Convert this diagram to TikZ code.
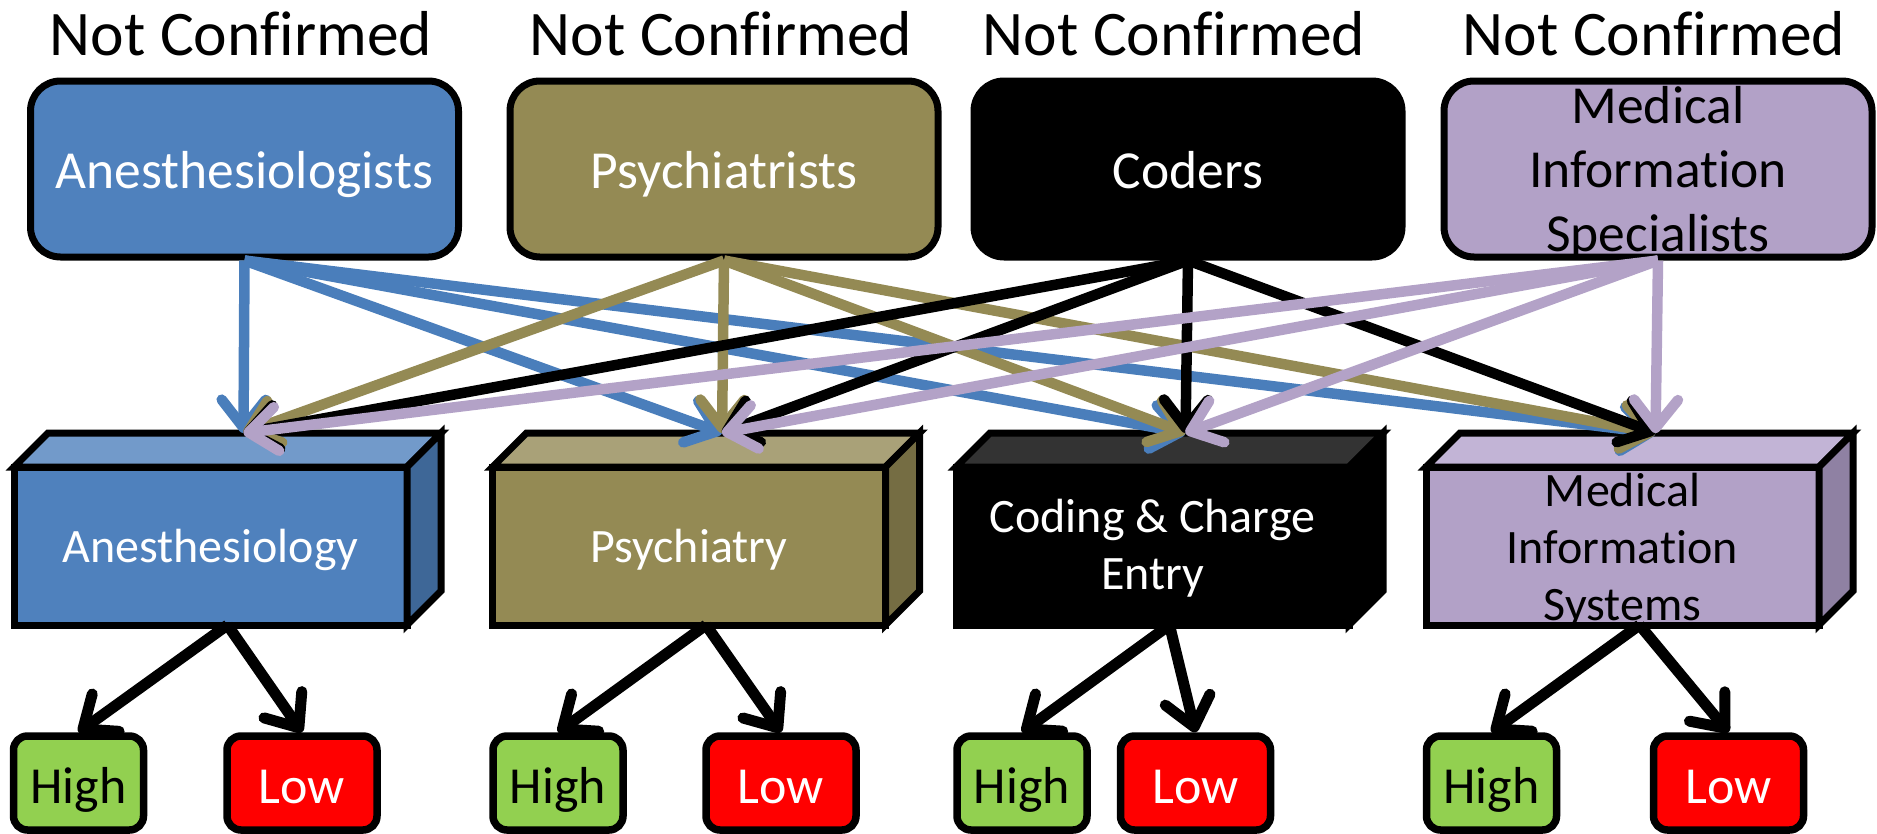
\documentclass[tikz,border=0pt]{standalone}
\usepackage{fontspec}
\setmainfont{Carlito}[Ligatures=NoCommon]
\usetikzlibrary{arrows.meta,calc}
\definecolor{blueF}{HTML}{4F81BD}
\definecolor{blueT}{HTML}{729ACA}
\definecolor{blueS}{HTML}{3E6797}
\definecolor{blueL}{HTML}{4A7EBB}
\definecolor{oliveF}{HTML}{948A54}
\definecolor{oliveT}{HTML}{A9A178}
\definecolor{oliveS}{HTML}{756D43}
\definecolor{purpF}{HTML}{B2A1C7}
\definecolor{purpT}{HTML}{C2B4D6}
\definecolor{purpS}{HTML}{8F81A3}
\definecolor{purpL}{HTML}{B3A2C7}
\definecolor{darkT}{HTML}{333333}
\definecolor{hiG}{HTML}{92D050}
\definecolor{loR}{HTML}{FF0000}
\begin{document}
\begin{tikzpicture}[x=1pt,y=-1pt,
  topbox/.style={draw=black, line width=7pt, rounded corners=30pt, minimum width=428pt, minimum height=176pt, inner sep=0pt, align=center, font=\fontsize{53.5}{64}\selectfont, text height=38pt, text depth=0pt},
  toptext/.style={inner sep=0pt, align=center, font=\fontsize{53.5}{64}\selectfont},
  hdr/.style={anchor=base, inner sep=0pt, font=\fontsize{63.5}{70}\selectfont},
  front/.style={draw=black, line width=7pt, minimum width=393pt, minimum height=158pt, inner sep=0pt, outer sep=0pt, align=center, font=\fontsize{48}{57}\selectfont, text height=32pt, text depth=0pt},
  fronttext/.style={inner sep=0pt, align=center, font=\fontsize{48}{57}\selectfont},
  face/.style={draw=black, line width=7pt, line join=miter},
  rate/.style={draw=black, line width=7.5pt, rounded corners=14pt, minimum height=94pt, inner sep=0pt, font=\fontsize{52}{60}\selectfont, text height=40pt, text depth=0pt},
  high/.style={rate, fill=hiG, minimum width=130pt},
  low/.style={rate, fill=loR, text=white, minimum width=150pt},
  conn/.style={line width=10.5pt, -{Straight Barb[length=28pt,width=44pt,round]}},
  down/.style={line width=11pt, draw=black, -{Straight Barb[length=28pt,width=46pt,round]}}
]
\useasboundingbox (0,0) rectangle (1877,833);

% headers
\node[hdr] (h1) at (241,55) {Not Confirmed};
\node[hdr] (h2) at (721,55) {Not Confirmed};
\node[hdr] (h3) at (1174,55) {Not Confirmed};
\node[hdr] (h4) at (1654,55) {Not Confirmed};

% top boxes
\node[topbox, fill=blueF, text=white] (A) at (244.5,169) {Anesthesiologists};
\node[topbox, fill=oliveF, text=white] (P) at (724,169) {Psychiatrists};
\node[topbox, fill=black, text=white] (C) at (1188,169) {Coders};
\node[topbox, fill=purpF] (M) at (1658,169) {};
\node[toptext, text=black] (MTxt) at (1658,173) {Medical\\Information\\Specialists};

% cubes
\node[front, fill=blueF, text=white] (a) at (210.5,546) {Anesthesiology};
\node[front, fill=oliveF, text=white] (p) at (689,546) {Psychiatry};
\node[front, fill=black] (c) at (1152.5,546) {};
\node[front, fill=purpF] (m) at (1622.5,546) {};

\foreach \n/\t/\s in {a/blueT/blueS, p/oliveT/oliveS, c/darkT/black, m/purpT/purpS}{
  \filldraw[face, fill=\t] (\n.north west) -- ++(34,-34) -- ($(\n.north east)+(34,-34)$) -- (\n.north east) -- cycle;
  \filldraw[face, fill=\s] (\n.north east) -- ++(34,-34) -- ($(\n.south east)+(34,-34)$) -- (\n.south east) -- cycle;
  \coordinate (\n-top) at ($(\n.north)+(33,-34)$);
  \coordinate (\n-bot) at ($(\n.south)+(17,0)$);
}
\node[fronttext, text=white] (cTxt) at (1152.5,548) {Coding \& Charge\\Entry};
\node[fronttext, text=black] (mTxt) at (1622.5,551) {Medical\\Information\\Systems};

% rating boxes
\node[high] (a-hi) at (78.5,783) {High};
\node[low]  (a-lo) at (302,783) {Low};
\node[high] (p-hi) at (558,783) {High};
\node[low]  (p-lo) at (781,783) {Low};
\node[high] (c-hi) at (1022,783) {High};
\node[low]  (c-lo) at (1195.5,783) {Low};
\node[high] (m-hi) at (1491.5,783) {High};
\node[low]  (m-lo) at (1728.5,783) {Low};

% connectors from top boxes
\foreach \tgt in {a,p,c,m} \draw[conn, blueL] (A.south) -- (\tgt-top);
\foreach \tgt in {a,p,c,m} \draw[conn, oliveF] (P.south) -- (\tgt-top);
\foreach \tgt in {a,p,c,m} \draw[conn, black] (C.south) -- (\tgt-top);
\foreach \tgt in {a,p,c,m} \draw[conn, purpL] (M.south) -- (\tgt-top);

% lower arrows
\foreach \n in {a,p,c,m}{
  \draw[down] (\n-bot) -- (\n-hi.north);
  \draw[down] (\n-bot) -- (\n-lo.north);
}
\end{tikzpicture}
\end{document}
